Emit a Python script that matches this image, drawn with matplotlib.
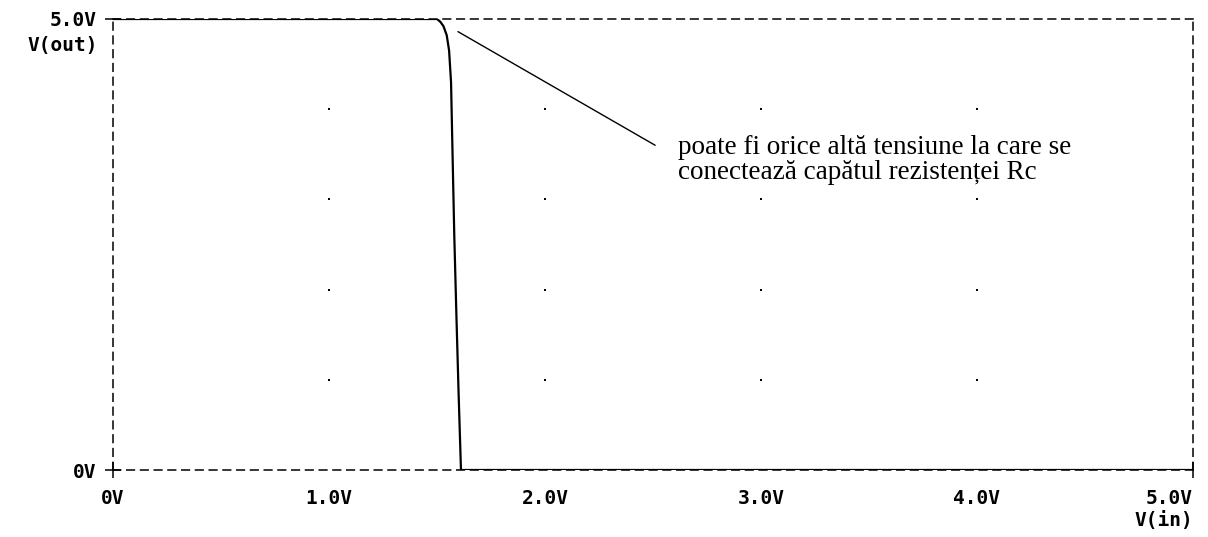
import matplotlib
matplotlib.use("Agg")
import matplotlib.pyplot as plt

# transfer characteristic
vin = [0.0, 1.50, 1.515, 1.53, 1.545, 1.556, 1.565, 1.572, 1.58, 1.59, 1.60, 1.611, 5.0]
vout = [5.0, 5.0, 4.97, 4.92, 4.82, 4.65, 4.3, 3.5, 2.6, 1.7, 0.85, 0.0, 0.0]

xticks = [0, 1, 2, 3, 4, 5]
xlabels = ["0V", "1.0V", "2.0V", "3.0V", "4.0V", "5.0V"]
yticks = [0, 5]
ylabels = ["0V", "5.0V"]
grid_pts = [1, 2, 3, 4]

note = "poate fi orice altă tensiune la care se\nconectează capătul rezistenței Rc"
note_xy = (1.597, 4.86)
note_text_xy = (2.51, 3.60)

mono = dict(family="DejaVu Sans Mono", weight="bold", size=14)

fig = plt.figure(figsize=(12.08, 5.37), dpi=100)
ax = fig.add_axes([113 / 1208, 1 - 470 / 537, 1080 / 1208, 451 / 537])
ax.set_xlim(0, 5)
ax.set_ylim(0, 5)

ax.plot(vin, vout, color="black", lw=1.6, zorder=3)

# dotted grid intersections
for gx in grid_pts:
    for gy in grid_pts:
        ax.plot(gx, gy, marker="s", ms=1.8, color="black", mew=0)

for s in ax.spines.values():
    s.set_linestyle((0, (5, 4)))
    s.set_linewidth(1.1)

ax.set_xticks(xticks)
ax.set_xticklabels(xlabels, **mono)
ax.set_yticks(yticks)
ax.set_yticklabels(ylabels, **mono)
ax.tick_params(direction="inout", length=12, width=1.1)
ax.tick_params(axis="x", pad=8)
ax.tick_params(axis="y", pad=6)
for i, t in enumerate(ax.xaxis.get_major_ticks()):
    if i not in (0, len(xticks) - 1):
        t.tick1line.set_markersize(0)
ax.get_xticklabels()[-1].set_ha("right")

ax.text(-0.014, 0.942, "V(out)", transform=ax.transAxes, ha="right", va="center", **mono)
ax.text(1.0, -0.112, "V(in)", transform=ax.transAxes, ha="right", va="center", **mono)

ax.annotate("", xy=note_xy, xytext=note_text_xy,
            arrowprops=dict(arrowstyle="-", lw=1, color="black", shrinkA=0, shrinkB=0))
ax.text(2.616, 3.71, note, family="Liberation Serif", size=19.5, ha="left", va="top",
        linespacing=1.0)

fig.savefig("out.png", dpi=100)
